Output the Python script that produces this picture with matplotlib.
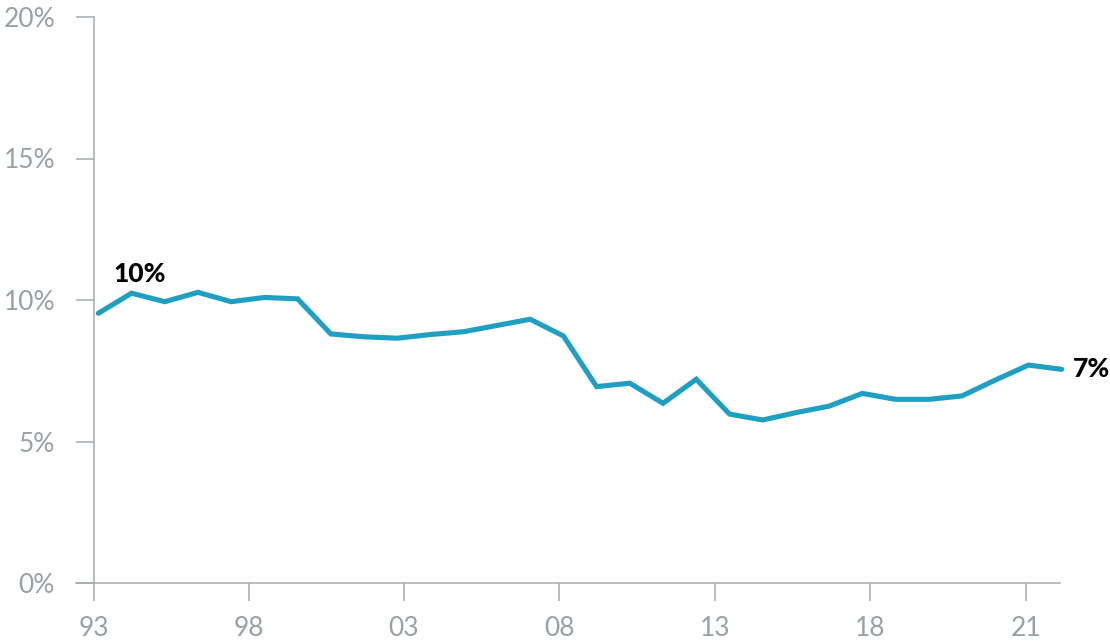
import matplotlib
matplotlib.use('Agg')
import matplotlib.pyplot as plt

years = list(range(1993, 2023))
rate = [9.53, 10.24, 9.94, 10.27, 9.94, 10.09, 10.04, 8.80, 8.70, 8.65,
        8.78, 8.88, 9.10, 9.32, 8.73, 6.94, 7.06, 6.35, 7.20, 5.97,
        5.76, 6.02, 6.25, 6.70, 6.49, 6.49, 6.61, 7.17, 7.70, 7.55]

x_labels = ['93', '98', '03', '08', '13', '18', '21']
y_ticks = [0, 5, 10, 15, 20]
y_labels = ['0%', '5%', '10%', '15%', '20%']

# tick positions as they sit in the original (not on whole years)
x_tick_pos = [1992.87, 1997.54, 2002.20, 2006.87, 2011.56, 2016.23, 2020.92]

line_col = '#1fa0c2'
axis_col = '#a3abb3'
text_col = '#98a1a9'

plt.rcParams['font.family'] = ['Lato', 'DejaVu Sans']

fig = plt.figure(figsize=(11.1, 6.43), dpi=100)
ax = fig.add_axes([94 / 1110, 60 / 643, 966 / 1110, 566 / 643])

ax.plot(years, rate, color=line_col, lw=3.7, solid_capstyle='round',
        solid_joinstyle='miter', clip_on=False, zorder=3)

ax.set_xlim(1992.87, 2021.95)
ax.set_ylim(0, 20)

ax.set_xticks(x_tick_pos)
ax.set_xticklabels(x_labels)
ax.set_yticks(y_ticks)
ax.set_yticklabels(y_labels)

for s in ['top', 'right']:
    ax.spines[s].set_visible(False)
for s in ['left', 'bottom']:
    ax.spines[s].set_color(axis_col)
    ax.spines[s].set_linewidth(1.1)

ax.tick_params(axis='both', colors=axis_col, width=1.1, length=13,
               labelcolor=text_col, labelsize=19)
ax.tick_params(axis='y', pad=15)
ax.tick_params(axis='x', pad=11)

# extend the baseline to the left like the original
ax.plot([-18 / 966, 0], [0, 0], transform=ax.transAxes, color=axis_col,
        lw=1.1, clip_on=False)

ax.annotate('10%', (years[1], rate[1]), xytext=(6, 5), textcoords='offset points',
            ha='center', va='bottom', fontsize=19, fontweight='black', color='black',
            annotation_clip=False)
ax.annotate('7%', (years[-1], rate[-1]), xytext=(8, 0), textcoords='offset points',
            ha='left', va='center', fontsize=19, fontweight='black', color='black',
            annotation_clip=False)

fig.savefig('out.png', dpi=100)
